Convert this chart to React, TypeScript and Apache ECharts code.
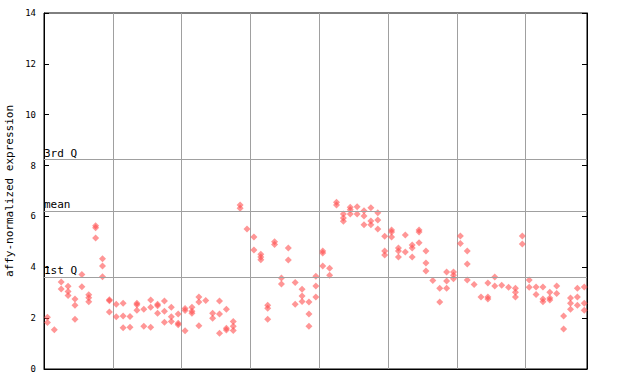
import React, { useEffect, useRef } from "react";
import * as echarts from "echarts";

// expression values per sample (79 samples, left to right)
const samples: number[][] = [
  [2.04, 1.83], [1.54], [3.42, 3.15], [3.25, 3.05, 2.89], [2.75, 2.51, 1.96],
  [3.72, 3.23], [2.92, 2.8, 2.64], [5.63, 5.55, 5.15], [4.34, 4.05, 3.63], [2.72, 2.68, 2.24],
  [2.55, 2.05], [2.59, 2.08, 1.62], [2.06, 1.64], [2.59, 2.53, 2.31], [2.35, 1.68],
  [2.71, 2.43, 1.64], [2.55, 2.49, 2.19], [2.67, 2.27, 1.84], [2.43, 2.05, 1.87], [2.16, 1.8, 1.74],
  [2.38, 2.3, 1.5], [2.43, 2.27, 2.19], [2.83, 2.63, 1.7], [2.69], [2.19, 2.0],
  [2.67, 2.16, 1.41], [2.35, 1.6, 1.53], [1.87, 1.68, 1.51], [6.45, 6.32], [5.51],
  [5.19, 4.68], [4.51, 4.4, 4.3], [2.51, 2.39, 1.96], [5.0, 4.9], [3.58, 3.34],
  [4.76, 4.29], [3.4, 2.55], [3.14, 2.87, 2.65], [2.63, 2.16, 1.68], [3.65, 3.26, 2.83],
  [4.64, 4.56, 4.05], [3.96, 3.69], [6.56, 6.45], [6.1, 5.94, 5.81], [6.36, 6.26, 6.1],
  [6.38, 6.1], [6.22, 6.02, 5.67], [6.34, 5.82, 5.67], [6.14, 5.86, 5.51], [5.22, 4.64, 4.48],
  [5.47, 5.39, 5.19], [4.76, 4.64, 4.4], [5.27, 4.6], [4.88, 4.76, 4.4], [5.47, 5.39, 4.96],
  [4.64, 4.17, 3.85], [3.48], [3.18, 2.63], [3.81, 3.46, 3.18], [3.81, 3.69, 3.55],
  [5.23, 4.94], [4.64, 4.13, 3.5], [3.32], [2.83], [3.38, 2.83, 2.75],
  [3.62, 3.26], [3.29], [3.21], [3.18, 3.02, 2.83], [5.23, 4.92],
  [3.5, 3.21], [3.22, 2.93], [3.22, 2.75, 2.64], [3.02, 2.79, 2.71], [3.26, 2.97],
  [2.08, 1.57], [2.79, 2.59, 2.35], [3.18, 2.83, 2.51], [3.22, 2.59, 2.31],
];

const quartileNames = ["3rd Q", "mean", "1st Q"];
const quartileValues = [8.23, 6.22, 3.62];

const yTicks = [0, 2, 4, 6, 8, 10, 12, 14];
const yName = "affy-normalized expression";

const MONO = "'DejaVu Sans Mono', 'Liberation Mono', monospace";

export default function App() {
  const ref = useRef<HTMLDivElement>(null);

  useEffect(() => {
    if (!ref.current) return;
    const chart = echarts.init(ref.current, undefined, { renderer: "svg" });
    const points: number[][] = [];
    samples.forEach((vals, i) => {
      vals.forEach((v) => points.push([i + 0.5, v]));
    });
    const yMin = yTicks[0];
    const yMax = yTicks[yTicks.length - 1];
    const yInterval = yTicks[1] - yTicks[0];

    chart.setOption({
      animation: false,
      grid: {
        left: 44,
        right: 53,
        top: 13,
        bottom: 15,
        containLabel: false,
        outerBoundsMode: "none",
        show: true,
        borderColor: "#000",
        borderWidth: 1,
        backgroundColor: "transparent",
      },
      xAxis: {
        type: "value",
        min: 0,
        max: samples.length - 0.1,
        interval: 10,
        axisLine: { show: true, lineStyle: { color: "#000", width: 1 } },
        axisTick: { show: false },
        axisLabel: { show: false },
        splitLine: { show: true, lineStyle: { color: "#a0a0a0", width: 1 } },
      },
      yAxis: [
        {
          type: "value",
          min: yMin,
          max: yMax,
          interval: yInterval,
          position: "left",
          name: yName,
          nameLocation: "middle",
          nameGap: 29,
          nameMoveOverlap: false,
          nameTextStyle: { fontFamily: MONO, fontSize: 11, color: "#000" },
          axisLine: { show: true, lineStyle: { color: "#000", width: 1 } },
          axisTick: { show: true, inside: true, length: 5, lineStyle: { color: "#000" } },
          axisLabel: { fontFamily: MONO, fontSize: 9, color: "#000", margin: 8 },
          splitLine: { show: false },
        },
        {
          type: "value",
          min: yMin,
          max: yMax,
          interval: yInterval,
          position: "right",
          axisLine: { show: true, lineStyle: { color: "#000", width: 1 } },
          axisTick: { show: true, inside: true, length: 5, lineStyle: { color: "#000" } },
          axisLabel: { show: false },
          splitLine: { show: false },
        },
      ],
      series: [
        {
          type: "scatter",
          data: points,
          symbol: "diamond",
          symbolSize: [7, 7],
          itemStyle: { color: "#ff5050", opacity: 0.6 },
          markLine: {
            silent: true,
            symbol: "none",
            lineStyle: { color: "#a0a0a0", width: 1, type: "solid" },
            label: {
              show: true,
              position: "insideStartTop",
              distance: [0, 1],
              formatter: "{b}",
              fontFamily: MONO,
              fontSize: 11,
              color: "#000",
            },
            emphasis: { disabled: true },
            data: quartileValues.map((v, i) => ({ yAxis: v, name: quartileNames[i] })),
          },
        },
      ],
    });
    return () => chart.dispose();
  }, []);

  return (
    <div
      ref={ref}
      style={{ position: "absolute", left: 0, top: 0, width: 640, height: 384 }}
    />
  );
}
